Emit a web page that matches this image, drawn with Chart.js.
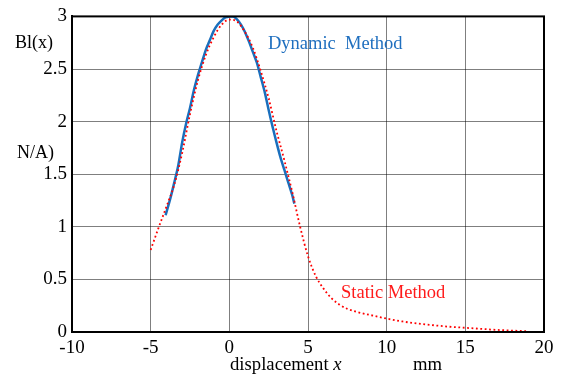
<!DOCTYPE html>
<html><head><meta charset="utf-8">
<script src="https://cdn.jsdelivr.net/npm/chart.js@4"></script>
<style>html,body{margin:0;padding:0;background:#fff;}canvas{display:block;}</style>
</head><body>
<canvas id="c" width="561" height="377"></canvas>
<script>
const xTicks = [-10, -5, 0, 5, 10, 15, 20];
const yTicks = [0, 0.5, 1, 1.5, 2, 2.5, 3];
const staticX = [-5, -4.5, -4, -3.5, -3, -2.5, -2, -1.5, -1, -0.5, 0, 0.5, 1, 1.5, 2, 2.5, 3, 3.5, 4, 4.5, 5, 5.5, 6, 6.5, 7, 7.5, 8, 9, 10, 11, 12, 13, 14, 15, 16, 17, 18, 19];
const staticY = [0.78, 0.99, 1.19, 1.40, 1.70, 2.07, 2.39, 2.63, 2.80, 2.92, 2.97, 2.95, 2.85, 2.70, 2.48, 2.22, 1.91, 1.63, 1.33, 1.00, 0.72, 0.53, 0.41, 0.32, 0.26, 0.22, 0.195, 0.16, 0.128, 0.10, 0.08, 0.064, 0.05, 0.04, 0.03, 0.02, 0.013, 0.008];
const dynX = [-4.05, -3.75, -3.5, -3.25, -3.0, -2.75, -2.5, -2.25, -2.0, -1.75, -1.5, -1.25, -1.0, -0.75, -0.5, -0.25, 0, 0.25, 0.5, 0.75, 1.0, 1.25, 1.5, 1.75, 2.0, 2.25, 2.5, 2.75, 3.0, 3.25, 3.5, 3.75, 4.0, 4.13];
const dynY = [1.11, 1.27, 1.42, 1.58, 1.80, 1.98, 2.13, 2.30, 2.44, 2.56, 2.68, 2.77, 2.86, 2.92, 2.96, 2.99, 3.00, 3.00, 2.97, 2.92, 2.85, 2.76, 2.66, 2.56, 2.42, 2.28, 2.11, 1.95, 1.80, 1.66, 1.54, 1.42, 1.30, 1.22];

const serif = "'Liberation Serif', 'Times New Roman', serif";
const toPts = (xs, ys) => xs.map((x, i) => ({x: x, y: ys[i]}));

const textPlugin = {
  id: 'texts',
  afterDraw(chart) {
    const ctx = chart.ctx;
    const a = chart.chartArea;
    ctx.save();
    ctx.strokeStyle = '#000';
    ctx.lineWidth = 2;
    ctx.strokeRect(a.left, a.top, a.right - a.left, a.bottom - a.top);
    ctx.textBaseline = 'alphabetic';
    ctx.fillStyle = '#000';
    ctx.font = '18px ' + serif;
    ctx.textAlign = 'left';
    ctx.fillText('Bl(x)', 15, 48);
    ctx.fillText('N/A)', 17, 158);
    ctx.font = '18.7px ' + serif;
    ctx.fillText('displacement ', 230, 370);
    const w = ctx.measureText('displacement ').width;
    ctx.font = 'italic 18.7px ' + serif;
    ctx.fillText('x', 230 + w, 370);
    ctx.font = '18.7px ' + serif;
    ctx.fillText('mm', 413, 370);
    ctx.font = '18.5px ' + serif;
    ctx.fillStyle = '#1f6fbf';
    ctx.fillText('Dynamic  Method', 268, 49);
    ctx.fillStyle = '#ff1a1a';
    ctx.fillText('Static Method', 341, 298);
    ctx.restore();
  }
};

new Chart(document.getElementById('c'), {
  type: 'scatter',
  data: {
    datasets: [
      {label: 'Static Method', data: toPts(staticX, staticY), showLine: true, borderColor: '#ff0000', borderWidth: 1.8, borderDash: [1.8, 2.6], pointRadius: 0, tension: 0.4, cubicInterpolationMode: 'monotone', fill: false},
      {label: 'Dynamic Method', data: toPts(dynX, dynY), showLine: true, borderColor: '#1a6fbd', borderWidth: 2.5, pointRadius: 0, tension: 0.3, fill: false}
    ]
  },
  options: {
    responsive: false,
    devicePixelRatio: 1,
    animation: false,
    layout: {padding: {top: 12, right: 17, left: 0, bottom: 0}},
    plugins: {legend: {display: false}, tooltip: {enabled: false}},
    scales: {
      x: {
        type: 'linear', min: -10, max: 20,
        afterBuildTicks: s => { s.ticks = xTicks.map(v => ({value: v})); },
        afterFit: s => { s.height = 45; },
        grid: {color: 'rgba(0,0,0,0.5)', lineWidth: 1, drawTicks: false},
        border: {display: true, color: '#000', width: 2},
        ticks: {color: '#000', font: {family: serif, size: 19}, padding: 5, maxRotation: 0, callback: v => String(v)}
      },
      y: {
        type: 'linear', min: 0, max: 3,
        afterBuildTicks: s => { s.ticks = yTicks.map(v => ({value: v})); },
        afterFit: s => { s.width = 72; },
        grid: {color: 'rgba(0,0,0,0.5)', lineWidth: 1, drawTicks: false},
        border: {display: true, color: '#000', width: 2},
        ticks: {color: '#000', font: {family: serif, size: 19}, padding: 5, callback: v => String(v)}
      }
    }
  },
  plugins: [textPlugin]
});
</script>
</body></html>
